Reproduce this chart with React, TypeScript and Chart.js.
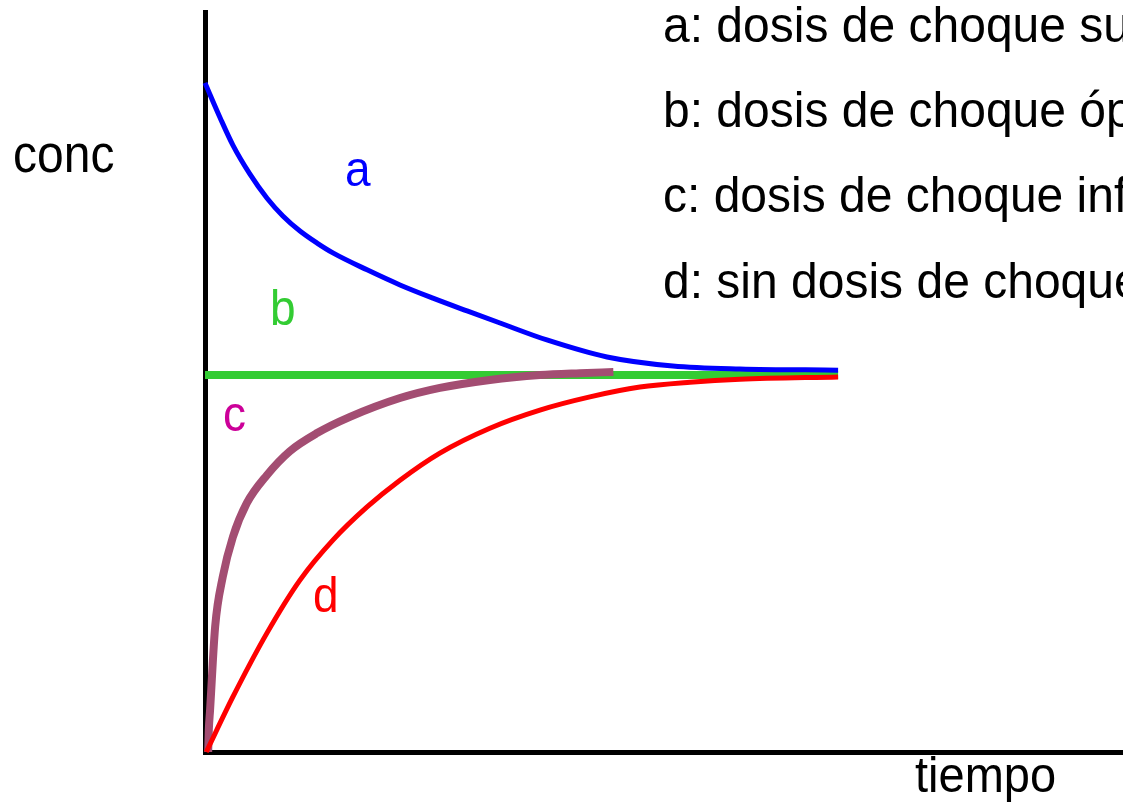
import React, { useEffect, useRef } from "react";
import { Chart, registerables } from "chart.js";

Chart.register(...registerables);

// curve a: loading dose too high
const timeA = [0, 0.24, 0.44, 0.71, 0.98, 1.23, 1.5, 1.77, 2.02, 2.56, 3.08, 3.6, 4.14, 4.66, 5.4, 6.35, 7.39, 8.45, 10];
const concA = [1.775, 1.682, 1.61, 1.533, 1.469, 1.422, 1.382, 1.35, 1.324, 1.279, 1.239, 1.204, 1.17, 1.138, 1.093, 1.048, 1.024, 1.016, 1.013];
// curve b: optimal loading dose
const timeB = [0, 10];
const concB = [1, 1];
// curve c: loading dose too low
const timeC = [0.05, 0.06, 0.08, 0.16, 0.28, 0.44, 0.66, 0.98, 1.34, 1.77, 2.29, 3.08, 3.71, 4.5, 5.29, 5.92, 6.45];
const concC = [0, 0.058, 0.111, 0.332, 0.464, 0.57, 0.66, 0.735, 0.798, 0.846, 0.889, 0.939, 0.966, 0.987, 1.0, 1.005, 1.008];
// curve d: no loading dose
const timeD = [0.02, 0.44, 0.98, 1.5, 2.02, 2.56, 3.08, 3.71, 4.5, 5.29, 6.08, 6.87, 7.66, 8.45, 10];
const concD = [0, 0.146, 0.316, 0.456, 0.562, 0.65, 0.721, 0.793, 0.859, 0.907, 0.942, 0.968, 0.981, 0.989, 0.995];

const legendLines = [
  "a: dosis de choque superior",
  "b: dosis de choque óptima",
  "c: dosis de choque inferior",
  "d: sin dosis de choque",
];
const curveLabels = ["a", "b", "c", "d"];
const yTitle = "conc";
const xTitle = "tiempo";

const X_MAX = 14.5;
const Y_MAX = 1.963;

const toPts = (xs: number[], ys: number[]) => xs.map((x, i) => ({ x, y: ys[i] }));

const textPlugin = {
  id: "textPlugin",
  afterDraw(chart: any) {
    const ctx = chart.ctx as CanvasRenderingContext2D;
    const draw = (t: string, x: number, y: number, size: number, color: string, sy: number) => {
      ctx.save();
      ctx.translate(x, y);
      ctx.scale(1, sy);
      ctx.font = `${size}px "Liberation Sans", Arial, sans-serif`;
      ctx.fillStyle = color;
      ctx.textAlign = "left";
      ctx.textBaseline = "alphabetic";
      ctx.fillText(t, 0, 0);
      ctx.restore();
    };
    const base = [42, 127, 212, 298];
    legendLines.forEach((l, i) => draw(l, 663, base[i], 48, "#000", 1.03));
    draw(yTitle, 13, 172, 48, "#000", 1.08);
    draw(xTitle, 915, 792, 47, "#000", 1.05);
    const lc = ["#0000FF", "#33CC33", "#CC0099", "#FF0000"];
    const lp = [[345, 186], [270, 325], [223, 431], [313, 612]];
    curveLabels.forEach((l, i) => draw(l, lp[i][0], lp[i][1], 46, lc[i], 1.08));
  },
};

export default function App() {
  const ref = useRef<HTMLCanvasElement | null>(null);
  useEffect(() => {
    if (!ref.current) return;
    const chart = new Chart(ref.current, {
      type: "line",
      data: {
        datasets: [
          { data: toPts(timeD, concD), borderColor: "#FF0000", borderWidth: 5, pointRadius: 0, cubicInterpolationMode: "monotone", clip: false },
          { data: toPts(timeC, concC), borderColor: "#A34D72", borderWidth: 8, pointRadius: 0, cubicInterpolationMode: "monotone", clip: false },
          { data: toPts(timeA, concA), borderColor: "#0000FF", borderWidth: 5, pointRadius: 0, cubicInterpolationMode: "monotone", clip: false },
          { data: toPts(timeB, concB), borderColor: "#33CC33", borderWidth: 8, pointRadius: 0, borderCapStyle: "butt", clip: false },
        ] as any,
      },
      options: {
        animation: false,
        responsive: false,
        devicePixelRatio: 1,
        layout: { padding: { left: 205, right: 0, top: 12, bottom: 51 } },
        plugins: { legend: { display: false }, tooltip: { enabled: false } },
        scales: {
          x: {
            type: "linear",
            min: 0,
            max: X_MAX,
            grid: { display: false, drawTicks: false, tickLength: 0 },
            ticks: { display: false },
            border: { display: true, color: "#000", width: 5 },
          },
          y: {
            type: "linear",
            min: 0,
            max: Y_MAX,
            grid: { display: false, drawTicks: false, tickLength: 0 },
            ticks: { display: false },
            border: { display: true, color: "#000", width: 5 },
          },
        },
      } as any,
      plugins: [textPlugin],
    });
    return () => chart.destroy();
  }, []);
  return (
    <div style={{ position: "absolute", left: 0, top: 0, width: 1123, height: 803, background: "#fff" }}>
      <canvas ref={ref} width={1123} height={803} style={{ display: "block" }} />
    </div>
  );
}
